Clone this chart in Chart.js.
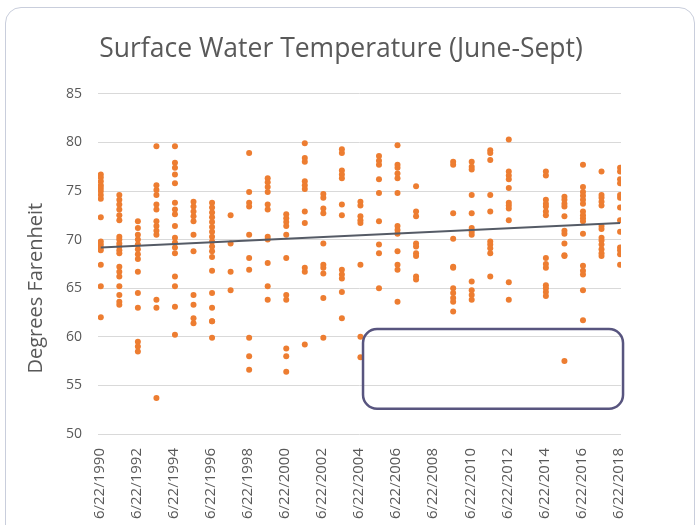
<!DOCTYPE html>
<html>
<head>
<meta charset="utf-8">
<script src="https://cdn.jsdelivr.net/npm/chart.js@4.4.0/dist/chart.umd.min.js"></script>
<style>
  html, body { margin: 0; padding: 0; background: #fff; }
  #card { position: absolute; left: 5px; top: 7px; width: 690px; height: 540px;
          border: 1.5px solid #c9cedc; border-radius: 16px; box-sizing: border-box; }
  #wrap { position: absolute; left: 0; top: 0; width: 700px; height: 525px; }
</style>
</head>
<body>
<div id="card"></div>
<div id="wrap"><canvas id="waterChart" width="700" height="525"></canvas></div>
<script>
  // ---- Data ----
  const sampleYears = [1990, 1991, 1992, 1993, 1994, 1995, 1996, 1997, 1998, 1999, 2000,
                       2001, 2002, 2003, 2004, 2005, 2006, 2007, 2009, 2010, 2011, 2012,
                       2014, 2015, 2016, 2017, 2018];

  const tempsByYear = [
    [76.7, 76.4, 76.0, 75.6, 75.3, 75.0, 74.6, 74.2, 72.3, 69.8, 69.5, 69.2, 68.9, 67.4, 65.2, 62.0], // 1990
    [74.6, 74.1, 73.6, 73.1, 72.5, 72.0, 70.3, 70.0, 69.6, 69.3, 68.9, 68.6, 67.2, 66.7, 66.2, 65.2, 64.3, 63.6, 63.3],
    [71.9, 71.2, 70.5, 70.0, 69.5, 69.0, 68.5, 68.0, 66.7, 64.5, 63.0, 59.5, 59.0, 58.5],
    [79.6, 75.6, 75.1, 74.6, 73.6, 73.1, 71.9, 71.4, 70.9, 70.5, 63.8, 63.0, 53.7],
    [79.6, 77.9, 77.4, 76.7, 75.8, 73.8, 73.1, 72.6, 71.4, 70.2, 69.7, 69.2, 68.6, 66.2, 65.2, 63.1, 60.2],
    [73.9, 73.4, 72.9, 72.4, 71.9, 70.5, 68.8, 64.3, 63.3, 61.9, 61.4],             // 1995
    [73.8, 73.3, 72.8, 72.3, 71.8, 71.3, 70.8, 70.3, 69.8, 69.3, 68.8, 68.2, 66.8, 64.5, 63.0, 61.6, 61.6, 59.9],
    [72.5, 69.6, 66.7, 64.8],
    [78.9, 74.9, 73.8, 73.4, 70.5, 68.1, 66.9, 59.9, 58.0, 56.6],
    [76.3, 75.9, 75.4, 74.9, 73.6, 73.1, 70.3, 70.0, 67.6, 65.2, 63.8],
    [72.6, 72.2, 71.8, 71.4, 70.5, 68.1, 64.3, 63.8, 58.8, 58.0, 56.4],             // 2000
    [79.9, 78.4, 78.0, 76.0, 75.6, 75.2, 72.9, 71.7, 67.1, 66.7, 59.2],
    [74.7, 74.3, 73.2, 72.7, 69.6, 67.4, 67.1, 66.5, 64.0, 59.9],
    [79.3, 78.9, 77.1, 76.7, 76.3, 73.6, 72.5, 66.9, 66.4, 66.0, 64.6, 61.9],
    [73.9, 73.5, 72.4, 72.0, 71.7, 67.4, 60.0, 57.9],
    [78.6, 78.1, 77.7, 76.2, 74.8, 71.9, 69.5, 68.6, 65.0],                         // 2005
    [79.7, 77.7, 77.4, 76.8, 76.3, 74.8, 71.4, 71.0, 70.6, 68.8, 67.4, 66.9, 63.6],
    [75.5, 72.9, 72.4, 69.6, 69.3, 68.6, 68.3, 66.2, 65.9],
    [78.0, 77.7, 72.7, 70.1, 67.2, 67.1, 65.0, 64.5, 64.0, 63.6, 62.6],             // 2009
    [78.0, 77.5, 77.2, 74.6, 72.7, 71.2, 70.8, 70.5, 65.7, 64.8, 64.3, 63.8],
    [79.2, 78.9, 78.2, 74.6, 72.9, 69.8, 69.5, 69.1, 68.6, 66.2],
    [80.3, 77.0, 76.6, 76.2, 75.3, 73.8, 73.5, 73.2, 72.0, 65.6, 63.8],
    [77.0, 76.6, 74.1, 73.7, 73.4, 72.9, 72.5, 68.1, 67.5, 67.1, 65.3, 65.0, 64.6, 64.2], // 2014
    [74.4, 74.1, 73.7, 73.4, 72.4, 70.9, 70.6, 69.6, 68.4, 68.3, 57.5],
    [77.7, 75.4, 74.9, 74.5, 74.1, 73.7, 72.9, 72.5, 72.2, 71.9, 70.6, 67.3, 66.8, 66.4, 64.8, 61.7],
    [77.0, 74.6, 74.3, 73.9, 73.5, 71.4, 71.1, 70.2, 69.9, 69.5, 69.0, 68.6, 68.3],
    [77.4, 77.0, 76.2, 75.8, 74.6, 74.3, 73.3, 72.0, 70.8, 69.2, 68.9, 68.5, 67.4]  // 2018
  ];

  const tickYears = [1990, 1992, 1994, 1996, 1998, 2000, 2002, 2004, 2006, 2008, 2010, 2012, 2014, 2016, 2018];
  const tickDate = 0.471;     // 6/22 as a fraction of the year
  const sampleDate = 0.55;    // mid-season sampling date

  // callout box, in data units
  const calloutX = [2004.69, 2018.71];
  const calloutY = [60.8, 52.6];

  // ---- Build points ----
  const points = [];
  sampleYears.forEach((yr, i) => {
    tempsByYear[i].forEach(t => points.push({ x: yr + sampleDate, y: t }));
  });

  // linear trendline (least squares)
  const n = points.length;
  const mx = points.reduce((s, p) => s + p.x, 0) / n;
  const my = points.reduce((s, p) => s + p.y, 0) / n;
  let sxy = 0, sxx = 0;
  points.forEach(p => { sxy += (p.x - mx) * (p.y - my); sxx += (p.x - mx) * (p.x - mx); });
  const slope = sxy / sxx;
  const xFirst = Math.min(...points.map(p => p.x));
  const xLast = Math.max(...points.map(p => p.x));
  const trend = [
    { x: xFirst, y: my + slope * (xFirst - mx) },
    { x: xLast,  y: my + slope * (xLast - mx) }
  ];

  const grey = '#595959';
  const font = 'Open Sans';

  // y axis title sits a bit low in the original, so draw it here
  const axisTitlePlugin = {
    id: 'axisTitle',
    afterDraw(chart) {
      const { ctx, scales: { y } } = chart;
      ctx.save();
      ctx.translate(36, y.getPixelForValue(65));
      ctx.rotate(-Math.PI / 2);
      ctx.fillStyle = grey;
      ctx.font = '20px "' + font + '"';
      ctx.textAlign = 'center';
      ctx.textBaseline = 'middle';
      ctx.fillText('Degrees Farenheit', 0, 0);
      ctx.restore();
    }
  };

  const calloutPlugin = {
    id: 'callout',
    afterDraw(chart) {
      const { ctx, scales: { x, y } } = chart;
      const x0 = x.getPixelForValue(calloutX[0]), x1 = x.getPixelForValue(calloutX[1]);
      const y0 = y.getPixelForValue(calloutY[0]), y1 = y.getPixelForValue(calloutY[1]);
      ctx.save();
      ctx.strokeStyle = '#58557f';
      ctx.lineWidth = 2.5;
      ctx.beginPath();
      ctx.roundRect(x0, y0, x1 - x0, y1 - y0, 14);
      ctx.stroke();
      ctx.restore();
    }
  };

  new Chart(document.getElementById('waterChart'), {
    type: 'scatter',
    data: {
      datasets: [
        {
          type: 'line',
          data: trend,
          borderColor: '#555b66',
          borderWidth: 2,
          pointRadius: 0,
          order: 1
        },
        {
          data: points,
          backgroundColor: '#ED7D31',
          borderWidth: 0,
          pointRadius: 3,
          order: 2
        }
      ]
    },
    options: {
      responsive: false,
      animation: false,
      devicePixelRatio: 1,
      layout: { padding: { left: 0, right: 18, top: 0, bottom: 0 } },
      plugins: {
        legend: { display: false },
        tooltip: { enabled: false },
        title: {
          display: true,
          text: 'Surface Water Temperature (June-Sept)',
          color: grey,
          font: { family: font, size: 26.5, weight: 'normal', lineHeight: 1.2 },
          padding: { top: 34, bottom: 28 }
        }
      },
      scales: {
        x: {
          type: 'linear',
          min: 1990.4,
          max: 2018.6,
          afterBuildTicks: s => { s.ticks = tickYears.map(yr => ({ value: yr + tickDate })); },
          afterFit: s => { s.height = 91; },
          ticks: {
            autoSkip: false,
            minRotation: 90,
            maxRotation: 90,
            padding: 6,
            color: grey,
            font: { family: font, size: 15 },
            callback: (v, i) => '6/22/' + tickYears[i]
          },
          grid: { display: false },
          border: { display: false }
        },
        y: {
          min: 50,
          max: 85,
          afterFit: s => { s.width = 98; },
          ticks: { stepSize: 5, padding: 16, color: grey, font: { family: font, size: 14 } },
          grid: { color: '#d9d9d9', drawTicks: false },
          border: { display: false }
        },
        yR: {
          position: 'right',
          afterFit: s => { s.width = 61; },
          ticks: { display: false },
          grid: { display: false },
          border: { display: false }
        }
      }
    },
    plugins: [axisTitlePlugin, calloutPlugin]
  });
</script>
</body>
</html>
